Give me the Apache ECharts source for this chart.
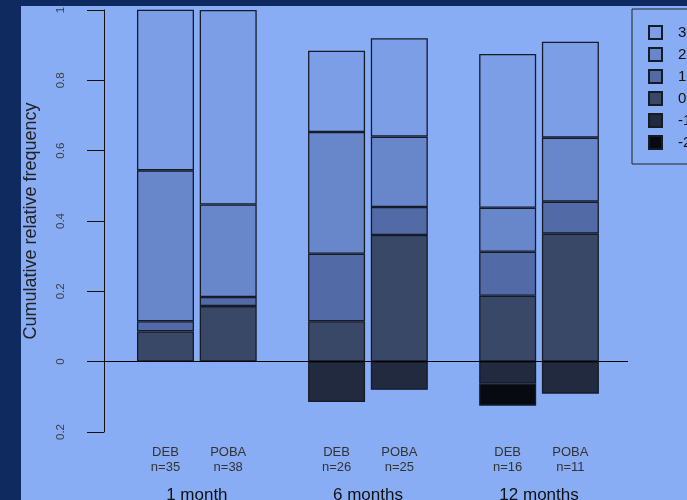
<!DOCTYPE html>
<html>
<head>
<meta charset="utf-8">
<script src="https://cdn.jsdelivr.net/npm/echarts@6/dist/echarts.min.js"></script>
<style>
  html, body { margin: 0; padding: 0; width: 687px; height: 500px; overflow: hidden; background: #0f2a5f; }
  #chart { position: absolute; left: 21px; top: 6px; width: 666px; height: 494px; }
</style>
</head>
<body>
<div id="chart"></div>
<script>
// Treatment arm and sample size of each bar, in drawing order
const arms = ['DEB', 'POBA', 'DEB', 'POBA', 'DEB', 'POBA'];
const armN = [35, 38, 26, 25, 16, 11];
const periods = ['1 month', '6 months', '12 months'];

// Score levels, listed top to bottom as in the key
const scoreLevels = ['3', '2', '1', '0', '-1', '-2'];

// Relative frequency of each score per bar (negative scores drawn below zero)
const freqScore3  = [0.457, 0.553, 0.231, 0.280, 0.4375, 0.273];
const freqScore2  = [0.429, 0.263, 0.346, 0.200, 0.125, 0.182];
const freqScore1  = [0.029, 0.026, 0.192, 0.080, 0.125, 0.091];
const freqScore0  = [0.086, 0.158, 0.115, 0.360, 0.1875, 0.364];
const freqScoreM1 = [0, 0, -0.115, -0.080, -0.0625, -0.091];
const freqScoreM2 = [0, 0, 0, 0, -0.0625, 0];

// Y axis tick labels from -0.2 up to 1
const yTickLabels = ['0.2', '0', '0.2', '0.4', '0.6', '0.8', '1'];

// Bar layout in barplot units: each bar 1 wide, small gap within a period, wider gap between periods
const leadSpace = 0.2, innerSpace = 0.1, groupSpace = 0.9;
const barCenters = [];
let cursor = leadSpace;
arms.forEach((a, i) => {
  if (i > 0) cursor += (i % 2 === 0) ? groupSpace : innerSpace;
  barCenters.push(cursor + 0.5);
  cursor += 1;
});
const groupCenters = periods.map((p, g) => (barCenters[2 * g] + barCenters[2 * g + 1]) / 2);

const fills = {
  '3':  '#7b9ee6',
  '2':  '#6887ca',
  '1':  '#526aa6',
  '0':  '#3a4868',
  '-1': '#222a3f',
  '-2': '#080a12'
};
const valuesByLevel = {
  '3': freqScore3, '2': freqScore2, '1': freqScore1,
  '0': freqScore0, '-1': freqScoreM1, '-2': freqScoreM2
};
// Stacking order: positives from the bottom up, negatives from zero downwards
const stackOrder = ['0', '1', '2', '3', '-1', '-2'];

const xMin = -0.378, xMax = 8.81;

// Each item is [frequency, position]; the frequency comes first so it is the stacked dimension
const series = stackOrder.map((lvl, k) => {
  const s = {
    name: lvl,
    type: 'bar',
    stack: 'freq',
    barWidth: 57,
    encode: { x: 1, y: 0 },
    data: valuesByLevel[lvl].map((v, i) => [v === 0 ? null : v, barCenters[i]]),
    itemStyle: { color: fills[lvl], borderColor: '#161b28', borderWidth: 1.3 },
    emphasis: { disabled: true },
    animation: false
  };
  if (k === stackOrder.length - 1) {
    s.markLine = {
      silent: true,
      symbol: 'none',
      label: { show: false },
      lineStyle: { color: '#000', width: 1, type: 'solid' },
      data: [{ yAxis: 0 }],
      animation: false
    };
  }
  return s;
});

function findIndex(list, v) {
  return list.findIndex(p => Math.abs(p - v) < 1e-6);
}

const chart = echarts.init(document.getElementById('chart'), null, { renderer: 'canvas' });
chart.setOption({
  backgroundColor: '#89adf5',
  animation: false,
  textStyle: { fontFamily: 'Liberation Sans, Arial, sans-serif' },
  grid: { left: 83, right: 59, top: 4, bottom: 68, outerBoundsMode: 'none', containLabel: false },
  legend: {
    orient: 'vertical',
    left: 611,
    top: 3,
    data: scoreLevels,
    icon: 'rect',
    itemWidth: 13,
    itemHeight: 13,
    itemGap: 7,
    padding: [16, 16, 14, 16],
    borderColor: '#222',
    borderWidth: 1,
    selectedMode: false,
    textStyle: { fontSize: 15, color: '#111', padding: [0, 0, 0, 11] }
  },
  xAxis: [
    {
      type: 'value',
      min: xMin,
      max: xMax,
      position: 'bottom',
      axisLine: { show: false },
      axisTick: { show: false },
      splitLine: { show: false },
      axisLabel: {
        customValues: barCenters,
        margin: 13,
        fontSize: 13,
        lineHeight: 15,
        color: '#333',
        formatter: v => {
          const i = findIndex(barCenters, v);
          return i < 0 ? '' : arms[i] + '\nn=' + armN[i];
        }
      }
    },
    {
      type: 'value',
      min: xMin,
      max: xMax,
      position: 'bottom',
      offset: 55,
      axisLine: { show: false },
      axisTick: { show: false },
      splitLine: { show: false },
      axisLabel: {
        customValues: groupCenters,
        margin: 0,
        fontSize: 17,
        color: '#111',
        formatter: v => {
          const g = findIndex(groupCenters, v);
          return g < 0 ? '' : periods[g];
        }
      }
    }
  ],
  yAxis: {
    type: 'value',
    min: -0.2,
    max: 1,
    interval: 0.2,
    name: 'Cumulative relative frequency',
    nameLocation: 'middle',
    nameGap: 64,
    nameRotate: 90,
    nameMoveOverlap: false,
    nameTextStyle: { fontSize: 18, color: '#222' },
    axisLine: { show: true, onZero: false, lineStyle: { color: '#111', width: 1 } },
    axisTick: { show: true, length: 17, lineStyle: { color: '#111', width: 1 } },
    splitLine: { show: false },
    axisLabel: {
      rotate: 90,
      margin: 37,
      fontSize: 11.5,
      color: '#3d3d3d',
      formatter: v => yTickLabels[Math.round((v + 0.2) / 0.2)]
    }
  },
  series: series
});
</script>
</body>
</html>
